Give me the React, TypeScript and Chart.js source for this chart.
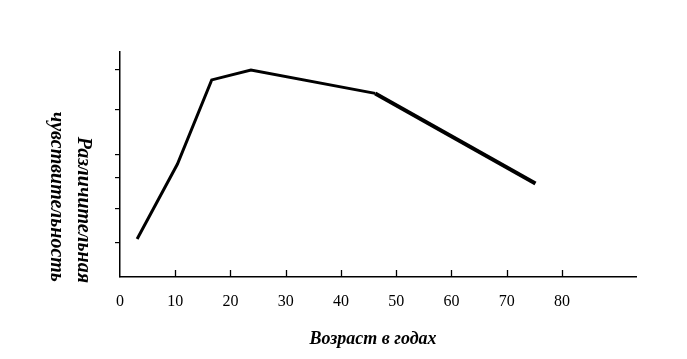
import React, { useEffect, useRef } from "react";
import { Chart, registerables } from "chart.js";

Chart.register(...registerables);

// Data
const ages = [3.1, 10.4, 16.6, 23.7, 46.2, 75.2];
const sensitivity = [16.9, 50.2, 87.6, 92, 81.6, 41.6];
const xTickValues = [0, 10, 20, 30, 40, 50, 60, 70, 80];
const yTickValues = [15.5, 30.5, 44, 54.5, 74.5, 92];
const xTitle = "Возраст в годах";
const yTitleLines = ["Различительная", "чувствительность"];

const X_TITLE_FONT = 'italic bold 18px "Liberation Serif", "DejaVu Serif", serif';
const Y_TITLE_FONT = 'italic bold 20px "Liberation Serif", "DejaVu Serif", serif';

const decor = {
  id: "decor",
  afterDraw(chart: any) {
    const { ctx, chartArea } = chart;
    const x = chart.scales.x;
    ctx.save();
    ctx.strokeStyle = "#000";
    ctx.lineWidth = 1.3;
    xTickValues.forEach((v) => {
      if (v === 0) return;
      const px = Math.round(x.getPixelForValue(v)) + 0.5;
      ctx.beginPath();
      ctx.moveTo(px, chartArea.bottom);
      ctx.lineTo(px, chartArea.bottom - 7);
      ctx.stroke();
    });
    ctx.fillStyle = "#000";
    ctx.font = X_TITLE_FONT;
    ctx.textAlign = "center";
    ctx.textBaseline = "middle";
    ctx.fillText(xTitle, 373, 339);

    ctx.font = Y_TITLE_FONT;
    ctx.textAlign = "right";
    const cols = [
      { cx: 83, end: 283 },
      { cx: 56, end: 282 },
    ];
    yTitleLines.forEach((line, i) => {
      ctx.save();
      ctx.translate(cols[i].cx, cols[i].end);
      ctx.rotate(Math.PI / 2);
      ctx.fillText(line, 0, 0);
      ctx.restore();
    });
    ctx.restore();
  },
};

export default function App() {
  const ref = useRef<HTMLCanvasElement | null>(null);
  useEffect(() => {
    if (!ref.current) return;
    const chart = new Chart(ref.current, {
      type: "line",
      data: {
        datasets: [
          {
            data: ages.map((a, i) => ({ x: a, y: sensitivity[i] })),
            borderColor: "#000",
            backgroundColor: "#000",
            pointRadius: 0,
            tension: 0,
            borderWidth: 3,
            segment: {
              borderWidth: (c: any) => (c.p0DataIndex >= 4 ? 4 : 3),
            },
          },
        ],
      },
      options: {
        animation: false,
        responsive: false,
        layout: { padding: { left: 110, right: 51, top: 52, bottom: 0 } },
        plugins: { legend: { display: false }, tooltip: { enabled: false } },
        scales: {
          x: {
            type: "linear",
            min: 0,
            max: 93.4,
            afterFit(s: any) {
              s.height = 82;
            },
            afterBuildTicks(s: any) {
              s.ticks = xTickValues.map((v) => ({ value: v }));
            },
            grid: { display: true, drawOnChartArea: false, drawTicks: false },
            border: { color: "#000", width: 1.5 },
            ticks: {
              color: "#000",
              font: { family: '"Liberation Serif", serif', size: 16 },
              padding: 15,
              autoSkip: false,
              maxRotation: 0,
            },
          },
          y: {
            type: "linear",
            min: 0,
            max: 100,
            afterFit(s: any) {
              s.width = 10;
            },
            afterBuildTicks(s: any) {
              s.ticks = yTickValues.map((v) => ({ value: v }));
            },
            grid: { drawOnChartArea: false, drawTicks: true, tickLength: 5, color: "#000", lineWidth: 1.2 },
            border: { color: "#000", width: 1.5 },
            ticks: { display: false },
          },
        },
      },
      plugins: [decor],
    } as any);
    return () => chart.destroy();
  }, []);
  return (
    <div style={{ position: "absolute", left: 0, top: 0, width: 687, height: 359, background: "#fff" }}>
      <canvas ref={ref} width={687} height={359} style={{ width: 687, height: 359, display: "block" }} />
    </div>
  );
}
